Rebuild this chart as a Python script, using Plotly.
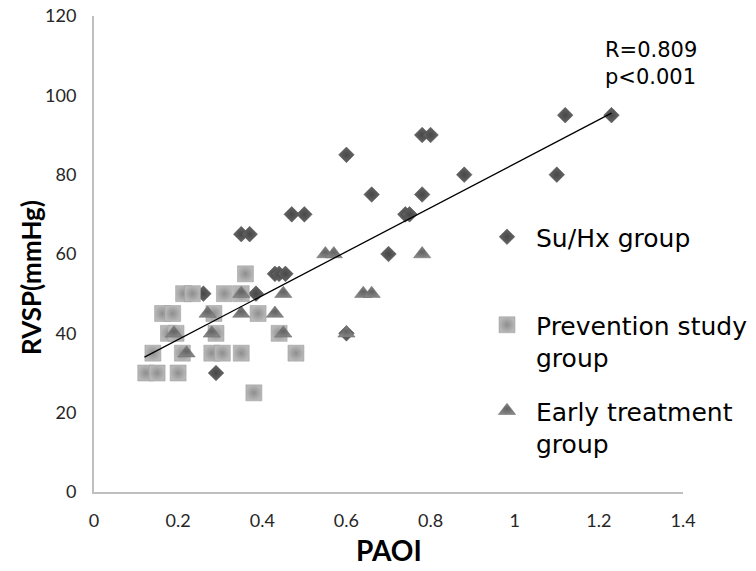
import plotly.graph_objects as go

# Data
suhx_x = [1.23, 1.12, 1.10, 0.88, 0.78, 0.80, 0.60, 0.66, 0.78, 0.74, 0.75, 0.47, 0.50,
          0.70, 0.35, 0.37, 0.43, 0.44, 0.455, 0.60, 0.26, 0.385, 0.29]
suhx_y = [95, 95, 80, 80, 90, 90, 85, 75, 75, 70, 70, 70, 70,
          60, 65, 65, 55, 55, 55, 40, 50, 50, 30]

prev_x = [0.36, 0.213, 0.234, 0.31, 0.35, 0.163, 0.187, 0.285, 0.39, 0.177, 0.195, 0.29,
          0.44, 0.14, 0.21, 0.28, 0.305, 0.35, 0.48, 0.123, 0.15, 0.20, 0.38]
prev_y = [55, 50, 50, 50, 50, 45, 45, 45, 45, 40, 40, 40,
          40, 35, 35, 35, 35, 35, 35, 30, 30, 30, 25]

early_x = [0.55, 0.57, 0.78, 0.35, 0.45, 0.64, 0.66, 0.27, 0.35, 0.43, 0.19, 0.28, 0.45, 0.60, 0.22]
early_y = [60, 60, 60, 50, 50, 50, 50, 45, 45, 45, 40, 40, 40, 40, 35]

trend_x = [0.12, 1.23]
trend_y = [34, 95.5]

series_names = ["Su/Hx group", "Prevention study<br>group", "Early treatment<br>group"]
x_ticks = [0, 0.2, 0.4, 0.6, 0.8, 1, 1.2, 1.4]
y_ticks = [0, 20, 40, 60, 80, 100, 120]

W, H = 756, 571
ML, MR, MT, MB = 94, 73, 16, 79
PW, PH = W - ML - MR, H - MT - MB


def px_x(p):
    return (p - ML) / PW


def px_y(p):
    return (H - MB - p) / PH


fig = go.Figure()

fig.add_trace(go.Scatter(
    x=suhx_x, y=suhx_y, mode="markers", name=series_names[0], legend="legend",
    marker=dict(symbol="diamond", size=12, color="#666666",
                gradient=dict(type="radial", color="#474747"),
                line=dict(color="#4a4a4a", width=0.5)),
))
fig.add_trace(go.Scatter(
    x=prev_x, y=prev_y, mode="markers", name=series_names[1], legend="legend2",
    marker=dict(symbol="square", size=16, color="#b8b8b8",
                gradient=dict(type="radial", color="#8e8e8e"),
                line=dict(color="#9a9a9a", width=0.5)),
))
fig.add_trace(go.Scatter(
    x=early_x, y=early_y, mode="markers", name=series_names[2], legend="legend3",
    marker=dict(symbol="triangle-up", size=15, color="#858585",
                gradient=dict(type="radial", color="#636363"),
                line=dict(color="#6a6a6a", width=0.5)),
))
fig.add_trace(go.Scatter(
    x=trend_x, y=trend_y, mode="lines", showlegend=False,
    line=dict(color="black", width=1.3),
))

axis_common = dict(
    showgrid=False, zeroline=False, showline=True, linecolor="#bfbfbf", linewidth=2,
    ticks="", tickfont=dict(family="Lato", size=18, color="#262626"),
)

legend_common = dict(xanchor="left", yanchor="top", itemwidth=48,
                     font=dict(family="DejaVu Sans", size=25, color="black"),
                     bgcolor="rgba(0,0,0,0)", valign="top")

fig.update_layout(
    width=W, height=H,
    margin=dict(l=ML, r=MR, t=MT, b=MB, autoexpand=False),
    paper_bgcolor="white", plot_bgcolor="white",
    xaxis=dict(range=[0, 1.4], tickvals=x_ticks, ticktext=[str(v) for v in x_ticks],
               ticklabelstandoff=11, **axis_common),
    yaxis=dict(range=[0, 120], tickvals=y_ticks, ticklabelstandoff=12, **axis_common),
    legend=dict(x=px_x(478), y=px_y(214), **legend_common),
    legend2=dict(x=px_x(478), y=px_y(302), **legend_common),
    legend3=dict(x=px_x(478), y=px_y(388), **legend_common),
    annotations=[
        dict(text="R=0.809<br>p&lt;0.001", xref="paper", yref="paper",
             x=px_x(603), y=px_y(36), xanchor="left", yanchor="top", align="left",
             showarrow=False, font=dict(family="DejaVu Sans", size=21, color="black")),
        dict(text="<b>PAOI</b>", xref="paper", yref="paper",
             x=0.5, y=px_y(550), xanchor="center", yanchor="middle",
             showarrow=False, font=dict(family="Lato", size=28, color="black")),
        dict(text="<b>RVSP(mmHg)</b>", xref="paper", yref="paper",
             x=px_x(31), y=px_y(278), xanchor="center", yanchor="middle", textangle=-90,
             showarrow=False, font=dict(family="Lato", size=26, color="black")),
    ],
)

fig.write_html("out.html")
